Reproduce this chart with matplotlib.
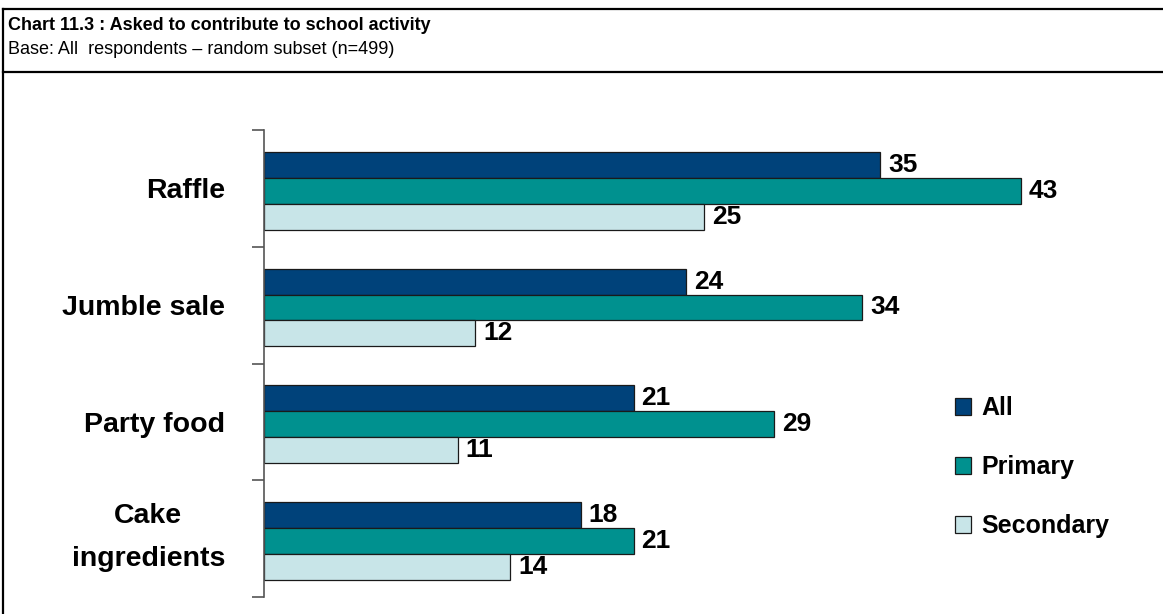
import matplotlib.pyplot as plt
from matplotlib.lines import Line2D
from matplotlib.transforms import ScaledTranslation
import numpy as np

plt.rcParams['font.family'] = ['Liberation Sans', 'DejaVu Sans']

categories = ['Raffle', 'Jumble sale', 'Party food', 'Cake\ningredients']
series_names = ['All', 'Primary', 'Secondary']
all_values = [35, 24, 21, 18]
primary_values = [43, 34, 29, 21]
secondary_values = [25, 12, 11, 14]
colors = ['#00427A', '#00918F', '#C8E5E8']

fig = plt.figure(figsize=(11.63, 6.14), dpi=100)

# header block with rules and left border
fig.add_artist(Line2D([0.003, 1.0], [1 - 9 / 614, 1 - 9 / 614], color='black', lw=1.6))
fig.add_artist(Line2D([0.003, 1.0], [1 - 72 / 614, 1 - 72 / 614], color='black', lw=1.6))
fig.add_artist(Line2D([0.003, 0.003], [0.0, 1 - 9 / 614], color='black', lw=1.6))
fig.text(8 / 1163, 1 - 25 / 614, 'Chart 11.3 : Asked to contribute to school activity',
         fontsize=13, fontweight='bold', va='center')
fig.text(8 / 1163, 1 - 50 / 614, 'Base: All  respondents \u2013 random subset (n=499)',
         fontsize=13, va='center')

ax = fig.add_axes([264 / 1163, 17 / 614, 880 / 1163, 467 / 614])

y = np.arange(len(categories))
h = 0.222
off = 0.02
series = [all_values, primary_values, secondary_values]
for i, (vals, name, c) in enumerate(zip(series, series_names, colors)):
    pos = y + off + (i - 1) * h
    ax.barh(pos, vals, height=h, color=c, edgecolor='#1a1a1a', linewidth=0.9, label=name)
    for p, v in zip(pos, vals):
        ax.text(v + 0.45, p, str(v), fontsize=19, fontweight='bold', va='center', ha='left')

ax.set_xlim(0, 50)
ax.set_ylim(len(categories) - 0.5, -0.5)

for s in ['top', 'right', 'bottom']:
    ax.spines[s].set_visible(False)
ax.spines['left'].set_color('#555555')
ax.spines['left'].set_linewidth(1.2)
ax.set_xticks([])

ax.set_yticks(y)
ax.set_yticklabels(categories, fontsize=20.5, fontweight='bold', multialignment='center',
                   linespacing=1.85)
ax.tick_params(axis='y', which='major', length=0, pad=28)
ax.set_yticks(np.arange(-0.5, len(categories)), minor=True)
ax.tick_params(axis='y', which='minor', length=9, width=1.2, color='#555555')

# lift the two-line label so it sits centred on its bars
for lbl in ax.get_yticklabels():
    if '\n' in lbl.get_text():
        lbl.set_transform(lbl.get_transform() + ScaledTranslation(0, 0.13, fig.dpi_scale_trans))

leg = fig.legend(loc='center left', bbox_to_anchor=(955 / 1163, 1 - 467 / 614),
                 frameon=False, prop={'weight': 'bold', 'size': 18},
                 handlelength=0.65, handleheight=0.65, handletextpad=0.4,
                 labelspacing=1.4, borderpad=0, borderaxespad=0)

plt.savefig('out.png', dpi=100)
